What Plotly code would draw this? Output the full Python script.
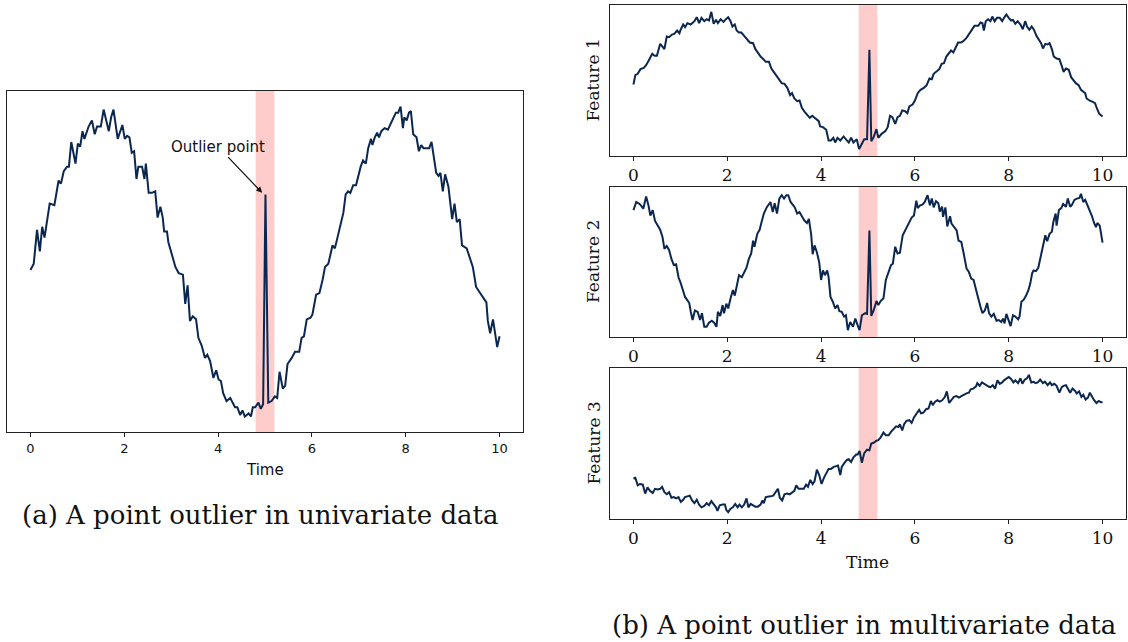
import plotly.graph_objects as go

# ---------------- data ----------------
time_a = [0,0.07,0.14,0.20,0.25,0.30,0.41,0.51,0.60,0.65,
          0.71,0.78,0.82,0.87,0.96,1.01,1.06,1.11,1.15,1.24,
          1.31,1.37,1.42,1.50,1.56,1.62,1.67,1.72,1.77,1.86,
          1.91,1.96,2.01,2.06,2.11,2.16,2.21,2.26,2.30,2.38,
          2.43,2.46,2.52,2.59,2.66,2.71,2.77,2.82,2.85,2.91,
          2.94,3.01,3.09,3.16,3.25,3.30,3.35,3.40,3.46,3.53,
          3.58,3.65,3.72,3.77,3.83,3.90,3.96,4.01,4.06,4.11,
          4.18,4.26,4.31,4.36,4.41,4.47,4.52,4.57,4.65,4.70,
          4.74,4.79,4.86,4.91,4.96,5.01,5.07,5.14,5.21,5.26,
          5.31,5.38,5.43,5.48,5.57,5.64,5.73,5.78,5.83,5.89,
          5.97,6.01,6.09,6.16,6.23,6.28,6.35,6.40,6.44,6.49,
          6.54,6.60,6.67,6.72,6.77,6.82,6.88,6.94,6.99,7.04,
          7.09,7.15,7.20,7.26,7.29,7.34,7.39,7.43,7.48,7.55,
          7.62,7.67,7.73,7.79,7.84,7.89,7.94,7.97,8.02,8.07,
          8.11,8.16,8.23,8.28,8.33,8.38,8.44,8.50,8.55,8.60,
          8.65,8.70,8.74,8.79,8.84,8.91,8.95,8.99,9.04,9.09,
          9.15,9.20,9.30,9.38,9.43,9.50,9.57,9.66,9.72,9.75,
          9.80,9.86,9.91,9.95,10.0]
value_a = [-0.05,-0.01,0.21,0.07,0.23,0.16,0.38,0.37,0.53,0.51,
           0.59,0.62,0.62,0.78,0.64,0.77,0.75,0.85,0.80,0.88,
           0.92,0.83,0.88,0.88,0.99,0.92,0.85,0.94,0.99,0.80,
           0.84,0.89,0.80,0.82,0.81,0.71,0.72,0.54,0.62,0.62,
           0.54,0.64,0.45,0.45,0.46,0.29,0.36,0.29,0.20,0.20,
           0.13,0.05,-0.03,-0.07,-0.08,-0.27,-0.15,-0.38,-0.35,-0.37,
           -0.49,-0.54,-0.62,-0.60,-0.64,-0.75,-0.70,-0.76,-0.77,-0.85,
           -0.90,-0.88,-0.91,-0.94,-0.94,-0.99,-0.96,-1.00,-0.98,-1.00,
           -0.94,-0.94,-0.91,-0.95,-0.92,0.44,-0.91,-0.90,-0.87,-0.88,
           -0.71,-0.82,-0.80,-0.66,-0.62,-0.58,-0.58,-0.49,-0.48,-0.37,
           -0.36,-0.34,-0.21,-0.20,-0.11,-0.03,-0.01,0.06,0.11,0.09,
           0.15,0.24,0.32,0.44,0.46,0.45,0.50,0.50,0.57,0.62,
           0.66,0.64,0.74,0.80,0.76,0.81,0.84,0.81,0.85,0.87,
           0.86,0.89,0.93,0.97,0.97,1.01,0.87,0.94,0.92,0.97,
           0.98,0.83,0.81,0.72,0.76,0.74,0.74,0.74,0.78,0.69,
           0.58,0.56,0.58,0.46,0.57,0.49,0.37,0.28,0.38,0.26,
           0.28,0.11,0.09,0.02,-0.03,-0.16,-0.19,-0.23,-0.26,-0.38,
           -0.46,-0.37,-0.49,-0.55,-0.48]

time_f1 = [0,0.04,0.09,0.15,0.22,0.27,0.34,0.40,0.45,0.50,
           0.57,0.61,0.66,0.71,0.76,0.82,0.87,0.93,0.98,1.01,
           1.06,1.10,1.15,1.22,1.30,1.35,1.40,1.45,1.51,1.56,
           1.61,1.66,1.71,1.76,1.80,1.86,1.92,1.97,2.02,2.07,
           2.11,2.16,2.20,2.25,2.30,2.36,2.43,2.48,2.55,2.60,
           2.66,2.71,2.77,2.82,2.89,2.94,2.99,3.05,3.10,3.16,
           3.22,3.28,3.34,3.38,3.43,3.49,3.54,3.59,3.65,3.70,
           3.76,3.81,3.86,3.90,3.95,3.98,4.04,4.11,4.16,4.21,
           4.26,4.30,4.35,4.41,4.48,4.54,4.59,4.64,4.69,4.76,
           4.81,4.87,4.92,4.98,5.03,5.07,5.12,5.18,5.22,5.29,
           5.37,5.42,5.47,5.52,5.58,5.63,5.68,5.73,5.79,5.84,
           5.88,5.95,6.00,6.06,6.12,6.19,6.25,6.31,6.36,6.40,
           6.46,6.52,6.57,6.62,6.67,6.72,6.77,6.82,6.87,6.92,
           6.98,7.03,7.10,7.16,7.23,7.27,7.35,7.40,7.44,7.47,
           7.51,7.56,7.61,7.65,7.70,7.75,7.81,7.86,7.90,7.95,
           8.00,8.05,8.09,8.14,8.19,8.25,8.30,8.35,8.39,8.44,
           8.49,8.54,8.59,8.64,8.69,8.73,8.78,8.83,8.87,8.92,
           8.96,9.02,9.08,9.13,9.17,9.22,9.28,9.33,9.38,9.43,
           9.49,9.54,9.59,9.63,9.66,9.72,9.79,9.84,9.88,9.93,
           10.0]
value_f1 = [-0.05,0.09,0.11,0.18,0.20,0.24,0.33,0.41,0.38,0.38,
            0.56,0.52,0.48,0.67,0.66,0.70,0.71,0.76,0.72,0.78,
            0.85,0.81,0.87,0.85,0.90,0.96,0.87,0.95,0.90,0.93,
            0.91,1.04,0.86,0.92,0.87,0.93,0.89,0.93,0.96,0.90,
            0.82,0.85,0.76,0.73,0.73,0.68,0.63,0.58,0.57,0.48,
            0.42,0.37,0.33,0.29,0.29,0.19,0.14,0.08,0.02,-0.03,
            -0.04,-0.10,-0.21,-0.18,-0.26,-0.30,-0.29,-0.40,-0.46,-0.50,
            -0.55,-0.52,-0.55,-0.57,-0.60,-0.68,-0.69,-0.73,-0.89,-0.89,
            -0.85,-0.92,-0.85,-0.89,-0.83,-0.88,-0.92,-0.85,-0.92,-0.87,
            -1.02,-0.94,-0.87,-0.87,0.47,-0.90,-0.84,-0.72,-0.85,-0.79,
            -0.75,-0.69,-0.52,-0.54,-0.64,-0.54,-0.52,-0.44,-0.45,-0.48,
            -0.38,-0.35,-0.29,-0.18,-0.13,-0.10,-0.06,0.04,0.03,0.11,
            0.14,0.18,0.26,0.27,0.37,0.41,0.46,0.43,0.51,0.58,
            0.58,0.60,0.65,0.72,0.80,0.83,0.83,0.88,0.87,0.76,
            0.90,0.93,0.90,0.97,0.90,0.95,0.95,0.90,0.95,1.00,
            0.95,0.91,0.92,0.86,0.90,0.85,0.78,0.90,0.82,0.77,
            0.82,0.77,0.68,0.62,0.57,0.49,0.56,0.55,0.57,0.48,
            0.37,0.34,0.33,0.23,0.14,0.19,0.17,0.06,0.02,-0.03,
            -0.06,-0.13,-0.16,-0.18,-0.26,-0.29,-0.31,-0.33,-0.41,-0.49,
            -0.53]

time_f2 = [0,0.06,0.11,0.16,0.21,0.27,0.32,0.36,0.41,0.46,
           0.52,0.57,0.62,0.66,0.71,0.76,0.81,0.86,0.91,0.96,
           1.00,1.05,1.10,1.14,1.19,1.22,1.26,1.31,1.37,1.42,
           1.46,1.51,1.56,1.61,1.67,1.72,1.77,1.80,1.85,1.90,
           1.93,1.98,2.02,2.07,2.12,2.16,2.20,2.25,2.31,2.36,
           2.41,2.46,2.51,2.55,2.58,2.64,2.69,2.73,2.78,2.84,
           2.89,2.92,2.97,3.01,3.06,3.11,3.16,3.21,3.26,3.30,
           3.35,3.40,3.44,3.49,3.54,3.60,3.64,3.70,3.74,3.79,
           3.82,3.86,3.91,3.96,4.00,4.04,4.08,4.13,4.16,4.20,
           4.25,4.30,4.35,4.39,4.44,4.49,4.53,4.57,4.62,4.68,
           4.73,4.78,4.82,4.87,4.94,4.98,5.03,5.07,5.12,5.18,
           5.22,5.27,5.33,5.38,5.44,5.49,5.53,5.58,5.63,5.68,
           5.74,5.79,5.84,5.88,5.93,5.98,6.03,6.06,6.11,6.16,
           6.21,6.27,6.32,6.36,6.40,6.45,6.50,6.53,6.58,6.60,
           6.65,6.69,6.75,6.78,6.83,6.89,6.93,6.99,7.04,7.10,
           7.15,7.20,7.25,7.30,7.35,7.40,7.44,7.49,7.54,7.58,
           7.63,7.68,7.74,7.79,7.84,7.88,7.91,7.95,8.00,8.04,
           8.09,8.14,8.20,8.23,8.27,8.32,8.37,8.42,8.46,8.50,
           8.53,8.58,8.63,8.68,8.73,8.78,8.82,8.87,8.92,8.95,
           9.00,9.02,9.07,9.12,9.16,9.22,9.26,9.31,9.35,9.40,
           9.45,9.51,9.54,9.59,9.63,9.68,9.73,9.77,9.82,9.86,
           9.89,9.94,10.0]
value_f2 = [0.77,0.89,0.87,0.84,0.79,0.97,0.84,0.69,0.77,0.61,
            0.54,0.48,0.37,0.20,0.24,0.18,0.05,-0.04,-0.03,-0.22,
            -0.29,-0.41,-0.51,-0.55,-0.60,-0.72,-0.85,-0.71,-0.73,-0.85,
            -0.75,-0.95,-0.95,-0.89,-0.86,-0.89,-0.95,-0.73,-0.79,-0.63,
            -0.75,-0.61,-0.68,-0.53,-0.41,-0.49,-0.35,-0.19,-0.22,-0.16,
            -0.08,0.05,0.13,0.32,0.23,0.42,0.48,0.59,0.72,0.81,
            0.87,0.89,0.74,0.87,0.72,0.94,0.99,0.94,0.99,0.99,
            0.89,0.85,0.81,0.72,0.74,0.67,0.62,0.58,0.64,0.40,
            0.12,0.25,0.15,0.00,-0.26,-0.12,-0.19,-0.12,-0.22,-0.51,
            -0.58,-0.68,-0.63,-0.72,-0.73,-0.80,-0.78,-1.00,-0.88,-0.95,
            -0.83,-0.93,-1.00,-0.78,-0.75,-0.76,0.47,-0.79,-0.71,-0.57,
            -0.63,-0.57,-0.53,-0.26,-0.12,-0.04,-0.02,0.23,0.13,0.14,
            0.40,0.47,0.52,0.58,0.66,0.69,0.91,0.80,0.84,0.85,
            0.89,0.99,0.84,0.94,0.81,0.90,0.87,0.75,0.82,0.67,
            0.81,0.53,0.68,0.57,0.53,0.47,0.32,0.30,0.13,-0.09,
            -0.14,-0.24,-0.26,-0.41,-0.53,-0.66,-0.75,-0.71,-0.60,-0.75,
            -0.80,-0.76,-0.86,-0.85,-0.88,-0.83,-0.90,-0.76,-0.85,-0.94,
            -0.78,-0.80,-0.84,-0.80,-0.58,-0.55,-0.49,-0.41,-0.31,-0.16,
            -0.12,-0.13,-0.08,0.08,0.25,0.40,0.31,0.42,0.45,0.59,
            0.72,0.54,0.77,0.80,0.86,0.82,0.94,0.82,0.85,0.92,
            0.94,0.95,1.01,0.89,0.92,0.84,0.75,0.69,0.58,0.52,
            0.58,0.54,0.29]

time_f3 = [0,0.04,0.09,0.14,0.20,0.25,0.30,0.35,0.41,0.46,
           0.52,0.57,0.61,0.66,0.71,0.76,0.81,0.86,0.91,0.96,
           1.01,1.06,1.10,1.15,1.20,1.25,1.30,1.35,1.40,1.45,
           1.51,1.56,1.61,1.66,1.71,1.76,1.79,1.84,1.90,1.95,
           1.98,2.02,2.07,2.12,2.17,2.22,2.26,2.31,2.36,2.41,
           2.45,2.50,2.55,2.60,2.65,2.71,2.75,2.78,2.82,2.87,
           2.92,2.98,3.03,3.08,3.12,3.17,3.22,3.28,3.33,3.38,
           3.43,3.47,3.52,3.58,3.63,3.68,3.72,3.77,3.82,3.86,
           3.91,3.96,4.01,4.06,4.11,4.16,4.21,4.27,4.32,4.36,
           4.41,4.44,4.49,4.55,4.59,4.64,4.69,4.75,4.78,4.82,
           4.87,4.92,4.98,5.03,5.07,5.12,5.18,5.22,5.27,5.33,
           5.38,5.44,5.49,5.54,5.60,5.65,5.68,5.73,5.77,5.82,
           5.88,5.93,5.98,6.04,6.09,6.13,6.18,6.24,6.29,6.34,
           6.38,6.43,6.48,6.53,6.58,6.64,6.68,6.73,6.78,6.83,
           6.89,6.94,6.99,7.04,7.10,7.15,7.19,7.24,7.30,7.33,
           7.38,7.43,7.47,7.52,7.57,7.61,7.66,7.71,7.76,7.81,
           7.86,7.90,7.95,8.00,8.05,8.10,8.14,8.20,8.25,8.29,
           8.34,8.39,8.43,8.48,8.53,8.57,8.62,8.67,8.73,8.77,
           8.83,8.88,8.92,8.97,9.02,9.08,9.13,9.17,9.22,9.27,
           9.31,9.36,9.41,9.45,9.50,9.55,9.59,9.64,9.69,9.73,
           9.77,9.82,9.87,9.92,9.97,10.0]
value_f3 = [-0.51,-0.50,-0.61,-0.59,-0.60,-0.73,-0.64,-0.69,-0.72,-0.66,
            -0.67,-0.66,-0.63,-0.71,-0.74,-0.71,-0.79,-0.78,-0.80,-0.78,
            -0.85,-0.82,-0.78,-0.77,-0.76,-0.83,-0.87,-0.82,-0.89,-0.93,
            -0.91,-0.87,-0.90,-0.84,-0.89,-0.93,-0.98,-0.90,-0.89,-0.89,
            -0.97,-1.00,-0.95,-0.93,-0.88,-0.93,-0.89,-0.93,-0.89,-0.80,
            -0.93,-0.88,-0.90,-0.92,-0.92,-0.89,-0.83,-0.87,-0.78,-0.77,
            -0.77,-0.76,-0.71,-0.66,-0.79,-0.83,-0.74,-0.73,-0.74,-0.71,
            -0.69,-0.61,-0.66,-0.66,-0.66,-0.60,-0.63,-0.53,-0.59,-0.55,
            -0.38,-0.46,-0.59,-0.50,-0.43,-0.37,-0.37,-0.34,-0.33,-0.32,
            -0.46,-0.34,-0.29,-0.24,-0.23,-0.27,-0.20,-0.16,-0.16,-0.11,
            -0.28,-0.14,-0.09,-0.10,0.00,0.01,0.04,0.05,0.09,0.16,
            0.12,0.12,0.17,0.20,0.25,0.24,0.28,0.19,0.28,0.33,
            0.34,0.30,0.38,0.44,0.49,0.44,0.45,0.50,0.51,0.62,
            0.56,0.61,0.63,0.61,0.63,0.68,0.76,0.59,0.64,0.68,
            0.69,0.67,0.69,0.71,0.73,0.74,0.79,0.80,0.83,0.88,
            0.84,0.89,0.87,0.85,0.83,0.82,0.85,0.80,0.92,0.87,
            0.89,0.92,0.94,0.97,0.94,0.89,0.92,0.88,0.95,0.87,
            0.93,0.95,1.00,0.89,0.90,0.88,0.89,0.93,0.88,0.90,
            0.85,0.89,0.85,0.87,0.84,0.74,0.82,0.84,0.85,0.78,
            0.74,0.80,0.77,0.73,0.76,0.68,0.71,0.64,0.67,0.74,
            0.69,0.63,0.59,0.62,0.60,0.60]

outlier_window = [4.8, 5.2]
x_ticks = [0, 2, 4, 6, 8, 10]
feature_names = ["Feature 1", "Feature 2", "Feature 3"]
outlier_label = "Outlier point"
outlier_time = 4.94
outlier_value = 0.45
caption_a = "(a) A point outlier in univariate data"
caption_b = "(b) A point outlier in multivariate data"

for a, b in [(time_a, value_a), (time_f1, value_f1), (time_f2, value_f2), (time_f3, value_f3)]:
    assert len(a) == len(b), (len(a), len(b))

# ---------------- styling ----------------
W, H = 1128, 642
LINE = "#0b2750"
SHADE = "rgba(255,0,0,0.2)"
FRAME = "#222222"
SANS = "DejaVu Sans"
SERIF = "DejaVu Serif"


def py(px):  # pixel row (from top) -> paper fraction
    return 1 - px / H


def px_(x):
    return x / W


def yrange(v):
    lo, hi = min(v), max(v)
    pad = 0.05 * (hi - lo)
    return [lo - pad, hi + pad]


fig = go.Figure()

series = [
    ("x", "y", time_a, value_a),
    ("x2", "y2", time_f1, value_f1),
    ("x3", "y3", time_f2, value_f2),
    ("x4", "y4", time_f3, value_f3),
]
for xa, ya, t, v in series:
    fig.add_trace(go.Scatter(x=t, y=v, xaxis=xa, yaxis=ya, mode="lines",
                             line=dict(color=LINE, width=2), showlegend=False,
                             hoverinfo="skip"))

left_dom_x = [px_(7), px_(523)]
right_dom_x = [px_(610), px_(1126)]
doms_y = [
    [py(432), py(91)],
    [py(156), py(5)],
    [py(337), py(187)],
    [py(519), py(368)],
]
doms_x = [left_dom_x, right_dom_x, right_dom_x, right_dom_x]

layout = dict(
    width=W, height=H, margin=dict(l=0, r=0, t=0, b=0),
    paper_bgcolor="white", plot_bgcolor="white", showlegend=False,
)

values = [value_a, value_f1, value_f2, value_f3]
for i in range(4):
    sfx = "" if i == 0 else str(i + 1)
    is_left = i == 0
    tickfont = dict(family=SANS if is_left else SERIF, size=13 if is_left else 17, color="#111")
    layout["xaxis" + sfx] = dict(
        domain=doms_x[i], range=[-0.5, 10.5], anchor="y" + sfx,
        tickvals=x_ticks, ticktext=[str(t) for t in x_ticks],
        ticks="outside", ticklen=4, tickwidth=1, tickcolor=FRAME,
        showline=True, mirror=True, linecolor=FRAME, linewidth=1,
        showgrid=False, zeroline=False, tickfont=tickfont,
    )
    layout["yaxis" + sfx] = dict(
        domain=doms_y[i], range=yrange(values[i]), anchor="x" + sfx,
        showticklabels=False, ticks="",
        showline=True, mirror=True, linecolor=FRAME, linewidth=1,
        showgrid=False, zeroline=False,
    )

fig.update_layout(**layout)

# shaded outlier window
shapes = []
for i in range(4):
    sfx = "" if i == 0 else str(i + 1)
    shapes.append(dict(type="rect", xref="x" + sfx, yref="y" + sfx + " domain",
                       x0=outlier_window[0], x1=outlier_window[1], y0=0, y1=1,
                       fillcolor=SHADE, line=dict(width=0), layer="below"))
fig.update_layout(shapes=shapes)

ann = []
# outlier annotation
ann.append(dict(x=outlier_time, y=outlier_value, xref="x", yref="y",
                ax=4.0, ay=0.75, axref="x", ayref="y",
                text=outlier_label, showarrow=True, arrowhead=2, arrowsize=1,
                arrowwidth=1.2, arrowcolor="#111",
                font=dict(family=SANS, size=15, color="#111"),
                xanchor="center", yanchor="middle"))
# Time labels
ann.append(dict(x=(px_(7) + px_(523)) / 2, y=py(470), xref="paper", yref="paper",
                text="Time", showarrow=False, font=dict(family=SANS, size=15, color="#111"),
                xanchor="center", yanchor="middle"))
ann.append(dict(x=(px_(610) + px_(1126)) / 2, y=py(562), xref="paper", yref="paper",
                text="Time", showarrow=False, font=dict(family=SERIF, size=17, color="#111"),
                xanchor="center", yanchor="middle"))
# Feature labels
for name, (y0, y1) in zip(feature_names, doms_y[1:]):
    ann.append(dict(x=px_(593), y=(y0 + y1) / 2, xref="paper", yref="paper",
                    text=name, textangle=-90, showarrow=False,
                    font=dict(family=SERIF, size=17, color="#111"),
                    xanchor="center", yanchor="middle"))
# captions
ann.append(dict(x=px_(20), y=py(515), xref="paper", yref="paper", text=caption_a,
                showarrow=False, font=dict(family=SERIF, size=26, color="#111"),
                xanchor="left", yanchor="middle"))
ann.append(dict(x=px_(610), y=py(625), xref="paper", yref="paper", text=caption_b,
                showarrow=False, font=dict(family=SERIF, size=26, color="#111"),
                xanchor="left", yanchor="middle"))
fig.update_layout(annotations=ann)

fig.write_html("out.html")
